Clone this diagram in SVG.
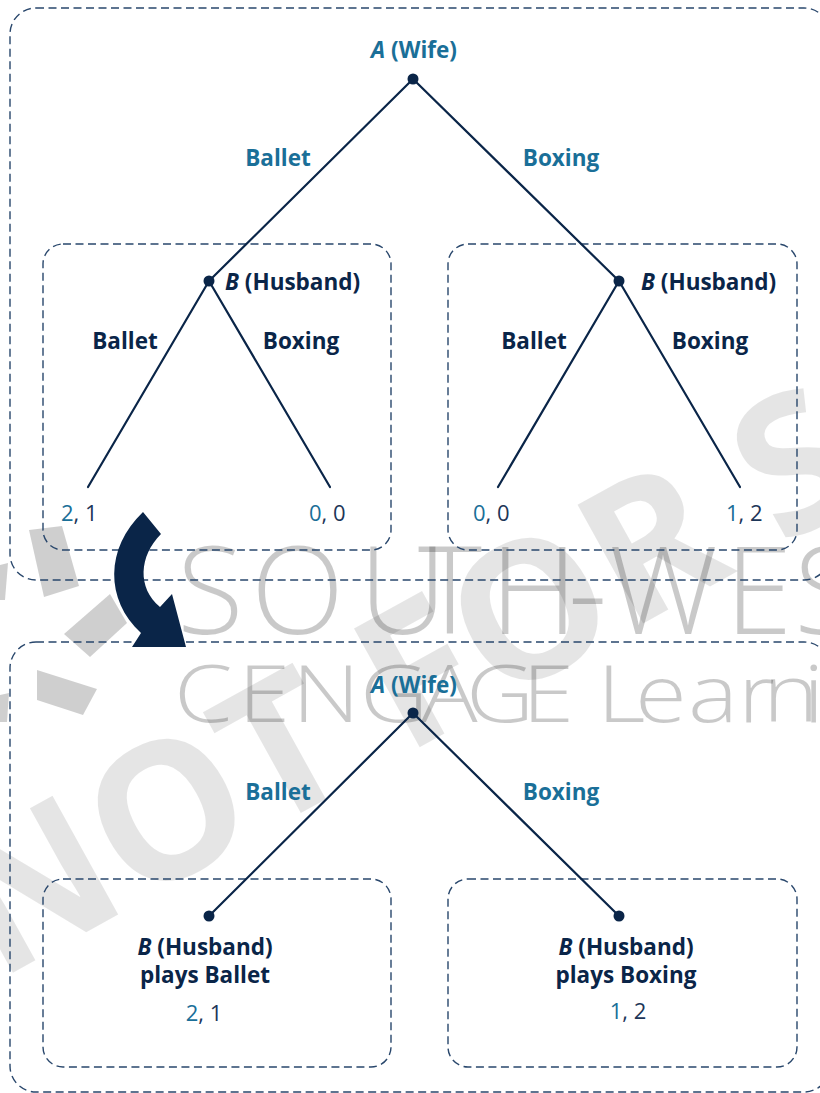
<svg xmlns="http://www.w3.org/2000/svg" width="820" height="1093" viewBox="0 0 820 1093">
<style>
.frame{fill:none;stroke:#29476c;stroke-width:1.4;stroke-dasharray:8 4.5}
.edge{stroke:#0a2548;stroke-width:2.2;fill:none;stroke-linecap:round}
.dot{fill:#0a2548}
.lbl{font-family:"Open Sans","Liberation Sans",sans-serif;font-weight:700;font-size:22.5px}
.teal{fill:#1a6f98}
.navy{fill:#0a2548}
.pay{font-family:"Open Sans","Liberation Sans",sans-serif;font-weight:400;font-size:22px;fill:#1d3658}
.wm1{font-family:"Open Sans","Liberation Sans",sans-serif;font-weight:300;fill:#000;fill-opacity:0.21}
.wm2{font-family:"Open Sans","Liberation Sans",sans-serif;font-weight:700;fill:#000;fill-opacity:0.1}
.wmb{fill:#000;fill-opacity:0.19}
</style>
<rect width="820" height="1093" fill="#ffffff"/>
<g id="watermark">
<text class="wm2" x="-2" y="981" font-size="190" transform="rotate(-29 -2 981)">NOT FOR SALE</text>
<text class="wm1" y="634" font-size="122" x="177 251 359 418 490 568 609 725 794">SOUTH-WES</text>
<text class="wm1" y="722" font-size="80" transform="scale(1.18 1)" x="147.5 201.7 247.5 305.1 356.8 394.9 442.4 487.3 505.9 538.1 583.1 625.4 646.6 680.5">CENGAGE Learni</text>
<polygon class="wmb" points="29,530 62,526 79,586 44,597"/>
<polygon class="wmb" points="64,634 110,594 127,623 90,657"/>
<polygon class="wmb" points="37,670 97,689 83,715 37,700"/>
<polygon class="wmb" points="0,565 8,563 5,600 0,600"/>
<polygon class="wmb" points="0,695 9,693 7,722 0,722"/>
</g>
<g id="frames">
<rect class="frame" x="10" y="8" width="820" height="572" rx="26"/>
<rect class="frame" x="43" y="244" width="348" height="306" rx="20"/>
<rect class="frame" x="448" y="244" width="349" height="306" rx="20"/>
<rect class="frame" x="10" y="642" width="820" height="450" rx="26"/>
<rect class="frame" x="43" y="879" width="348" height="188" rx="20"/>
<rect class="frame" x="448" y="879" width="349" height="188" rx="20"/>
</g>
<g id="transition-arrow">
<path class="navy" d="M143,512 L161,534 C139,556 137,588 160,607 L172,594 L186,647 L132,647 L141,633 C105,600 105,548 143,512 Z"/>
</g>
<g id="connectors">
<line class="edge" x1="413" y1="79" x2="209" y2="281"/>
<line class="edge" x1="413" y1="79" x2="619" y2="281"/>
<line class="edge" x1="209" y1="281" x2="88" y2="487"/>
<line class="edge" x1="209" y1="281" x2="330" y2="487"/>
<line class="edge" x1="619" y1="281" x2="498" y2="487"/>
<line class="edge" x1="619" y1="281" x2="740" y2="487"/>
<line class="edge" x1="413" y1="713" x2="209" y2="916"/>
<line class="edge" x1="413" y1="713" x2="619" y2="916"/>
<text class="lbl teal" x="278" y="166" text-anchor="middle">Ballet</text>
<text class="lbl teal" x="561" y="166" text-anchor="middle">Boxing</text>
<text class="lbl navy" x="125" y="349" text-anchor="middle">Ballet</text>
<text class="lbl navy" x="301" y="349" text-anchor="middle">Boxing</text>
<text class="lbl navy" x="534" y="349" text-anchor="middle">Ballet</text>
<text class="lbl navy" x="710" y="349" text-anchor="middle">Boxing</text>
<text class="lbl teal" x="278" y="800" text-anchor="middle">Ballet</text>
<text class="lbl teal" x="561" y="800" text-anchor="middle">Boxing</text>
</g>
<g id="node-A-top">
<circle class="dot" cx="413" cy="79" r="5.5"/>
<text class="lbl teal" x="414" y="58" text-anchor="middle"><tspan font-style="italic">A</tspan> (Wife)</text>
</g>
<g id="node-B-left">
<circle class="dot" cx="209" cy="281" r="5.5"/>
<text class="lbl navy" x="225" y="290"><tspan font-style="italic">B</tspan> (Husband)</text>
</g>
<g id="node-B-right">
<circle class="dot" cx="619" cy="281" r="5.5"/>
<text class="lbl navy" x="641" y="290"><tspan font-style="italic">B</tspan> (Husband)</text>
</g>
<g id="leaf-1"><text class="pay" x="61" y="521"><tspan class="teal">2</tspan>, 1</text></g>
<g id="leaf-2"><text class="pay" x="309" y="521"><tspan class="teal">0</tspan>, 0</text></g>
<g id="leaf-3"><text class="pay" x="473" y="521"><tspan class="teal">0</tspan>, 0</text></g>
<g id="leaf-4"><text class="pay" x="726" y="521"><tspan class="teal">1</tspan>, 2</text></g>
<g id="node-A-bottom">
<circle class="dot" cx="413" cy="713" r="5.5"/>
<text class="lbl teal" x="414" y="693" text-anchor="middle"><tspan font-style="italic">A</tspan> (Wife)</text>
</g>
<g id="node-B-ballet">
<circle class="dot" cx="209" cy="916" r="5.5"/>
<text class="lbl navy" x="205" y="955" text-anchor="middle"><tspan font-style="italic">B</tspan> (Husband)</text>
<text class="lbl navy" x="205" y="983" text-anchor="middle">plays Ballet</text>
<text class="pay" x="204" y="1021" text-anchor="middle"><tspan class="teal">2</tspan>, 1</text>
</g>
<g id="node-B-boxing">
<circle class="dot" cx="619" cy="916" r="5.5"/>
<text class="lbl navy" x="626" y="955" text-anchor="middle"><tspan font-style="italic">B</tspan> (Husband)</text>
<text class="lbl navy" x="626" y="983" text-anchor="middle">plays Boxing</text>
<text class="pay" x="628" y="1019" text-anchor="middle"><tspan class="teal">1</tspan>, 2</text>
</g>
</svg>
